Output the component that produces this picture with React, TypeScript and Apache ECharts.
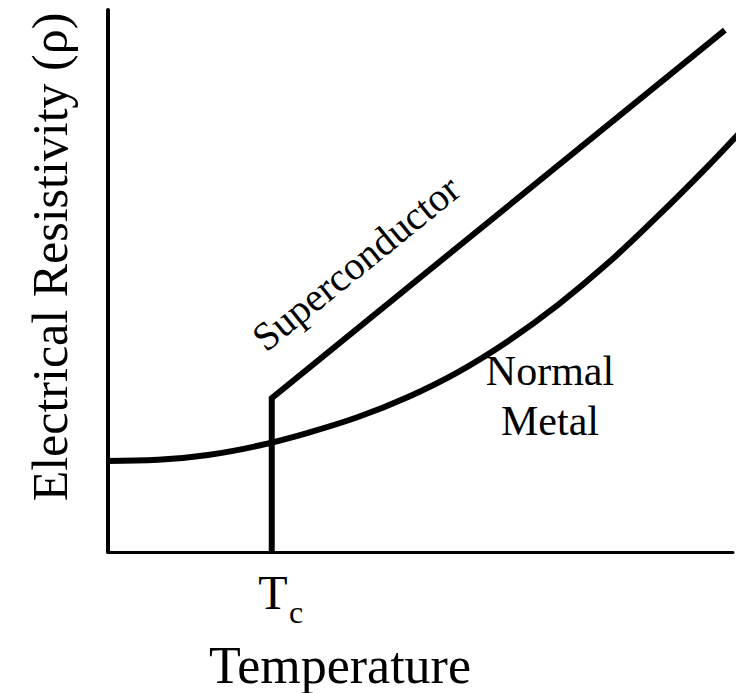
import React, { useEffect, useRef } from "react";
import * as echarts from "echarts";

// Data (arbitrary units: x = temperature 0..100, y = resistivity 0..100)
const superX = [26.2, 26.2, 98.7];
const superY = [0, 28.4, 96.3];

const metalX = [0, 8, 16, 24, 32, 40, 48, 56, 64, 72, 80, 88, 96, 101.1];
const metalY = [16.8, 17.0, 17.9, 19.6, 22.0, 24.9, 28.6, 33.2, 38.9, 45.6, 53.3, 62.0, 71.2, 77.4];

const FONT = "'Times New Roman', 'Liberation Serif', 'DejaVu Serif', serif";

function txt(text: string, x: number, y: number, size: number, align: string, rotation = 0) {
  return {
    type: "text",
    x,
    y,
    rotation,
    style: {
      text,
      fontFamily: FONT,
      fontSize: size,
      fill: "#000",
      textAlign: align,
      textVerticalAlign: "middle",
    },
  };
}

export default function App() {
  const ref = useRef<HTMLDivElement>(null);
  useEffect(() => {
    if (!ref.current) return;
    const chart = echarts.init(ref.current, null, { renderer: "svg" });
    const zip = (xs: number[], ys: number[]) => xs.map((x, i) => [x, ys[i]]);
    chart.setOption({
      animation: false,
      backgroundColor: "#ffffff",
      grid: { left: 108, right: 18, top: 10, bottom: 141 },
      xAxis: {
        type: "value",
        min: 0,
        max: 100,
        axisLine: { show: true, onZero: false, lineStyle: { color: "#000", width: 3 } },
        axisTick: { show: false },
        axisLabel: { show: false },
        splitLine: { show: false },
      },
      yAxis: {
        type: "value",
        min: 0,
        max: 100,
        axisLine: { show: true, onZero: false, lineStyle: { color: "#000", width: 4 } },
        axisTick: { show: false },
        axisLabel: { show: false },
        splitLine: { show: false },
      },
      series: [
        {
          name: "Superconductor",
          type: "line",
          data: zip(superX, superY),
          symbol: "none",
          clip: false,
          lineStyle: { color: "#000", width: 6, join: "miter" },
        },
        {
          name: "Normal Metal",
          type: "line",
          data: zip(metalX, metalY),
          symbol: "none",
          smooth: 0.4,
          clip: false,
          lineStyle: { color: "#000", width: 6 },
        },
      ],
      graphic: [
        txt("Electrical Resistivity (ρ)", 50, 257, 50, "center", Math.PI / 2),
        txt("Temperature", 340, 665, 52, "center"),
        txt("T", 273, 592, 48, "center"),
        txt("c", 289, 612, 32, "left"),
        txt("Superconductor", 356, 263, 40, "center", 0.68),
        txt("Normal", 550, 371, 42, "center"),
        txt("Metal", 550, 421, 42, "center"),
      ],
    });
    return () => chart.dispose();
  }, []);
  return <div ref={ref} style={{ width: 751, height: 693, position: "absolute", left: 0, top: 0 }} />;
}
